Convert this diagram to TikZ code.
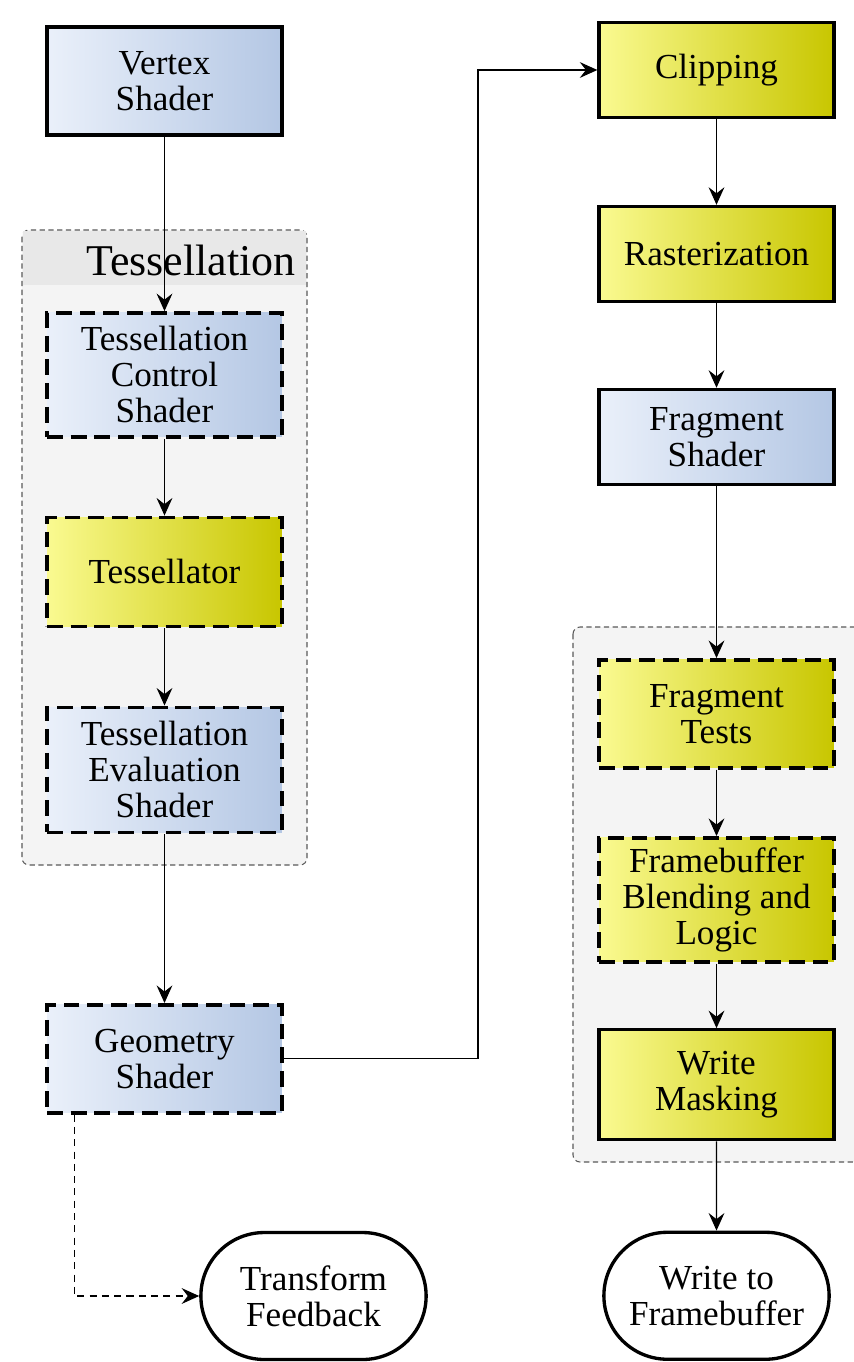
\documentclass[tikz,border=0pt]{standalone}
\usepackage{fontspec}
\setmainfont{Liberation Serif}
\usetikzlibrary{positioning,shapes.misc,arrows.meta}

\definecolor{bluelight}{RGB}{234,240,250}
\definecolor{bluedark}{RGB}{180,199,228}
\definecolor{yellowlight}{RGB}{250,250,145}
\definecolor{yellowdark}{RGB}{200,198,0}
\definecolor{groupfill}{RGB}{244,244,244}
\definecolor{headerfill}{RGB}{232,232,232}

\begin{document}
\begin{tikzpicture}[
x=0.02cm, y=-0.02cm,
node distance=3.7cm,
>={Stealth[length=10pt,width=9pt,inset=3.5pt]},
stage/.style = {draw, rectangle, line width=1.9pt, minimum width=4.7cm, align=center, font=\fontsize{20}{20.5}\selectfont},
shader/.style = {stage, left color=bluelight, right color=bluedark},
fixed/.style = {stage, left color=yellowlight, right color=yellowdark},
optional/.style = {line width=2.1pt, dash pattern=on 9pt off 4.5pt},
terminal/.style = {draw, rounded rectangle, line width=1.9pt, fill=white, minimum width=4.74cm, minimum height=2.54cm, align=center, font=\fontsize{20}{20.5}\selectfont},
flow/.style = {->, line width=0.7pt},
group/.style = {draw=gray!70!black, fill=groupfill, dash pattern=on 3pt off 2pt, line width=0.6pt, rounded corners=4pt} ]

\useasboundingbox (0,0) rectangle (854,1362);
\clip (0,0) rectangle (854,1362);

% groups
\draw[group] (22,230) rectangle (307,865);
\fill[headerfill] (23,231) rectangle (306,285);
\node[anchor=base, font=\fontsize{25}{25}\selectfont] (tesslabel) at (191,275) {Tessellation};
\draw[group] (573,627) rectangle (890,1162);

% left column
\node[shader, minimum height=2.16cm] (vertex) at (164.5,81) {Vertex\\Shader};
\node[shader, optional, minimum height=2.48cm] (tcs) [below of=vertex, node distance=5.88cm] {Tessellation\\Control\\Shader};
\node[fixed, optional, minimum height=2.18cm] (tessellator) [below of=tcs, node distance=3.94cm] {Tessellator};
\node[shader, optional, minimum height=2.5cm] (tes) [below of=tessellator, node distance=3.96cm] {Tessellation\\Evaluation\\Shader};
\node[shader, optional, minimum height=2.16cm] (geometry) [below of=tes, node distance=5.78cm] {Geometry\\Shader};
\node[terminal] (feedback) at (313.5,1296) {Transform\\Feedback};

% right column
\node[fixed, minimum height=1.9cm] (clipping) at (716.5,70) {Clipping};
\node[fixed, minimum height=1.9cm] (raster) [below of=clipping, node distance=3.68cm] {Rasterization};
\node[shader, minimum height=1.9cm] (fragshader) [below of=raster, node distance=3.66cm] {Fragment\\Shader};
\node[fixed, optional, minimum height=2.16cm] (fragtests) [below of=fragshader, node distance=5.54cm] {Fragment\\Tests};
\node[fixed, optional, minimum height=2.48cm] (blending) [below of=fragtests, node distance=3.72cm] {Framebuffer\\Blending and\\Logic};
\node[fixed, minimum height=2.2cm] (masking) [below of=blending, node distance=3.7cm] {Write\\Masking};
\node[terminal] (framebuffer) [below of=masking, node distance=4.22cm] {Write to\\Framebuffer};

\coordinate (bend) at (478,500);

\draw[flow] (vertex) -- (tcs);
\draw[flow] (tcs) -- (tessellator);
\draw[flow] (tessellator) -- (tes);
\draw[flow] (tes) -- (geometry);
\draw[flow] (geometry.east) -| (bend) |- (clipping.west);
\draw[flow, dash pattern=on 4pt off 3pt] ([xshift=0.58cm]geometry.south west) |- (feedback.west);
\draw[flow] (clipping) -- (raster);
\draw[flow] (raster) -- (fragshader);
\draw[flow] (fragshader) -- (fragtests);
\draw[flow] (fragtests) -- (blending);
\draw[flow] (blending) -- (masking);
\draw[flow] (masking) -- (framebuffer);

\end{tikzpicture}
\end{document}
